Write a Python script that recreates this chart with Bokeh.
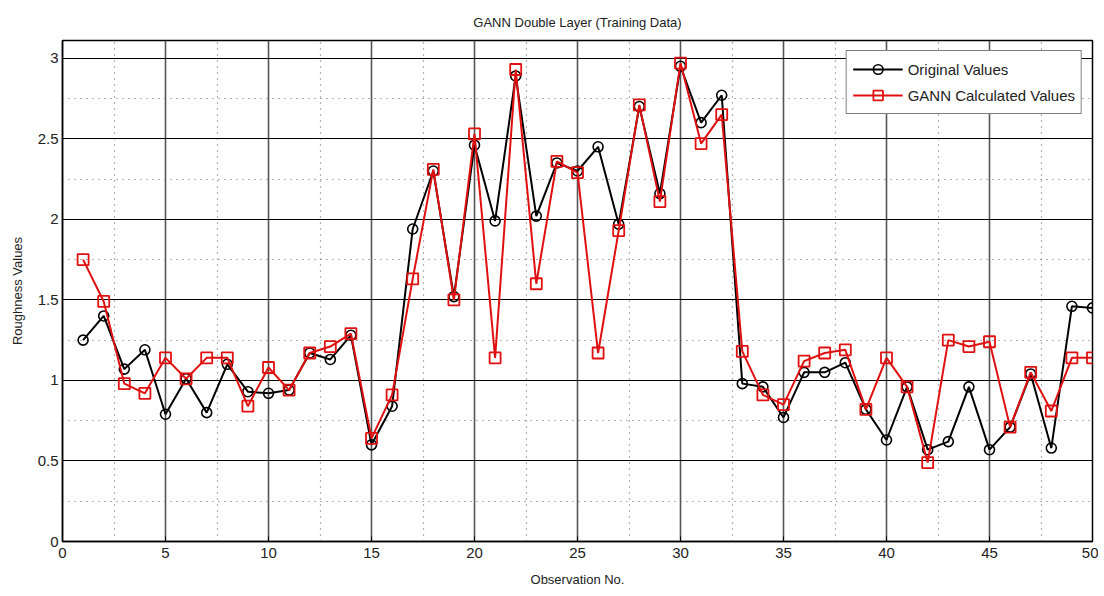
from bokeh.plotting import figure
from bokeh.models import FixedTicker, Range1d, Legend, LegendItem
from bokeh.embed import file_html
from bokeh.resources import INLINE

obs = list(range(1, 51))
original = [1.25, 1.40, 1.07, 1.19, 0.79, 1.01, 0.80, 1.10, 0.93, 0.92,
            0.94, 1.17, 1.13, 1.28, 0.60, 0.84, 1.94, 2.30, 1.52, 2.46,
            1.99, 2.89, 2.02, 2.35, 2.30, 2.45, 1.97, 2.70, 2.16, 2.95,
            2.60, 2.77, 0.98, 0.96, 0.77, 1.05, 1.05, 1.11, 0.82, 0.63,
            0.96, 0.57, 0.62, 0.96, 0.57, 0.71, 1.04, 0.58, 1.46, 1.45]
gann = [1.75, 1.49, 0.98, 0.92, 1.14, 1.01, 1.14, 1.14, 0.84, 1.08,
        0.94, 1.17, 1.21, 1.29, 0.64, 0.91, 1.63, 2.31, 1.50, 2.53,
        1.14, 2.93, 1.60, 2.36, 2.29, 1.17, 1.93, 2.71, 2.11, 2.97,
        2.47, 2.65, 1.18, 0.91, 0.85, 1.12, 1.17, 1.19, 0.82, 1.14,
        0.96, 0.49, 1.25, 1.21, 1.24, 0.71, 1.05, 0.81, 1.14, 1.14]
x_ticks = [0, 5, 10, 15, 20, 25, 30, 35, 40, 45, 50]
x_minor = [2.5, 7.5, 12.5, 17.5, 22.5, 27.5, 32.5, 37.5, 42.5, 47.5]
y_ticks = [0, 0.5, 1, 1.5, 2, 2.5, 3]
y_minor = [0.25, 0.75, 1.25, 1.75, 2.25, 2.75]

FONT = "Liberation Sans"

p = figure(width=1098, height=590, output_backend="svg", toolbar_location=None,
           x_range=Range1d(0, 50), y_range=Range1d(0, 3.11),
           min_border_left=62, min_border_right=6, min_border_top=40,
           min_border_bottom=49, title="GANN Double Layer (Training Data)")
p.title.align = "center"
p.title.text_font = FONT
p.title.text_font_size = "13px"
p.title.text_font_style = "normal"
p.title.text_color = "#222222"
p.title.standoff = 22

p.outline_line_color = "black"
p.outline_line_width = 1.5
p.background_fill_color = "white"

p.xaxis.ticker = FixedTicker(ticks=x_ticks, minor_ticks=x_minor)
p.yaxis.ticker = FixedTicker(ticks=y_ticks, minor_ticks=y_minor)
p.yaxis.major_label_overrides = {0: "0", 0.5: "0.5", 1: "1", 1.5: "1.5", 2: "2", 2.5: "2.5", 3: "3"}

for ax in (p.xaxis[0], p.yaxis[0]):
    ax.major_tick_in = 5
    ax.major_tick_out = 0
    ax.minor_tick_in = 0
    ax.minor_tick_out = 0
    ax.axis_line_color = "black"
    ax.axis_line_width = 1.5
    ax.major_label_text_font = FONT
    ax.major_label_text_font_size = "15px"
    ax.major_label_text_color = "#222222"
    ax.axis_label_text_font = FONT
    ax.axis_label_text_font_size = "13px"
    ax.axis_label_text_font_style = "normal"
    ax.axis_label_text_color = "#222222"
p.xaxis.axis_label = "Observation No."
p.yaxis.axis_label = "Roughness Values"
p.xaxis.major_label_standoff = 6
p.yaxis.major_label_standoff = 4
p.yaxis.axis_label_standoff = 10
p.xaxis.axis_label_standoff = 11

p.xgrid.grid_line_color = "#555555"
p.xgrid.grid_line_width = 1.6
p.ygrid.grid_line_color = "black"
p.ygrid.grid_line_width = 1.2
p.xgrid.minor_grid_line_color = "#666666"
p.xgrid.minor_grid_line_dash = "1 5"
p.xgrid.minor_grid_line_width = 1.2
p.ygrid.minor_grid_line_color = "#666666"
p.ygrid.minor_grid_line_dash = "1 5"
p.ygrid.minor_grid_line_width = 1.2

l1 = p.line(obs, original, line_color="black", line_width=2)
c1 = p.scatter(obs, original, marker="circle", size=10, line_color="black",
               line_width=1.6, fill_color="white", fill_alpha=0.0)
l2 = p.line(obs, gann, line_color="#e01010", line_width=2)
c2 = p.scatter(obs, gann, marker="square", size=11, line_color="#e01010",
               line_width=1.8, fill_color="white", fill_alpha=0.0)

legend = Legend(items=[LegendItem(label="Original Values", renderers=[l1, c1]),
                       LegendItem(label="GANN Calculated Values", renderers=[l2, c2])],
                location="top_right")
legend.label_text_font = FONT
legend.label_text_font_size = "15px"
legend.label_text_color = "#222222"
legend.border_line_color = "black"
legend.border_line_width = 1.2
legend.background_fill_color = "white"
legend.background_fill_alpha = 1.0
legend.glyph_width = 50
legend.label_height = 24
legend.glyph_height = 24
legend.spacing = 2
legend.padding = 6
legend.margin = 10
p.add_layout(legend)

open("out.html", "w").write(file_html(p, INLINE))
